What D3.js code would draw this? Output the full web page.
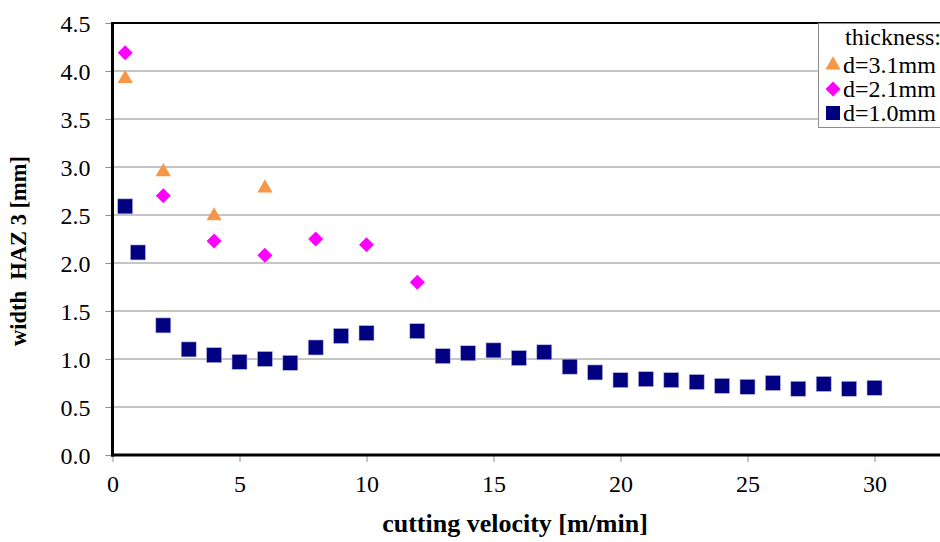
<!DOCTYPE html>
<html>
<head>
<meta charset="utf-8">
<script src="https://cdn.jsdelivr.net/npm/d3@7"></script>
<style>
  body { margin: 0; background: #fff; }
  svg { display: block; }
</style>
</head>
<body>
<div id="container"></div>
<script>
/* DATA */
const velocity10 = [0.5, 1, 2, 3, 4, 5, 6, 7, 8, 9, 10, 12, 13, 14, 15, 16, 17, 18, 19, 20, 21, 22, 23, 24, 25, 26, 27, 28, 29, 30];
const haz10 = [2.59, 2.11, 1.35, 1.10, 1.04, 0.97, 1.00, 0.96, 1.12, 1.24, 1.27, 1.29, 1.03, 1.06, 1.09, 1.01, 1.07, 0.92, 0.86, 0.78, 0.79, 0.78, 0.76, 0.72, 0.71, 0.75, 0.69, 0.74, 0.69, 0.70];
const velocity21 = [0.5, 2, 4, 6, 8, 10, 12];
const haz21 = [4.19, 2.70, 2.23, 2.08, 2.25, 2.19, 1.80];
const velocity31 = [0.5, 2, 4, 6];
const haz31 = [3.92, 2.95, 2.49, 2.78];
const yTicks = [0, 0.5, 1, 1.5, 2, 2.5, 3, 3.5, 4, 4.5];
const xTicks = [0, 5, 10, 15, 20, 25, 30];
const seriesNames = ["d=3.1mm", "d=2.1mm", "d=1.0mm"];

/* CONSTANTS */
const W = 940, H = 542;
const plotLeft = 112.5, plotTop = 23, plotBottom = 455;
const serif = "'Liberation Serif', 'Times New Roman', Times, serif";

const svg = d3.select("#container")
  .append("svg")
    .attr("width", W)
    .attr("height", H);

const x = d3.scaleLinear().domain([0, 35]).range([plotLeft, plotLeft + 35 * 25.4]);
const y = d3.scaleLinear().domain([0, 4.5]).range([plotBottom, plotTop]);

/* GRID */
svg.append("g")
  .selectAll("line")
  .data(yTicks.filter(d => d > 0 && d < 4.5))
  .join("line")
    .attr("x1", plotLeft).attr("x2", W)
    .attr("y1", d => y(d)).attr("y2", d => y(d))
    .attr("stroke", "#8c8c8c")
    .attr("stroke-width", 1);

/* AXES */
const yAxis = svg.append("g")
  .attr("transform", "translate(" + plotLeft + ",0)")
  .call(d3.axisLeft(y).tickValues(yTicks).tickSize(7).tickPadding(15).tickFormat(d3.format(".1f")));
yAxis.attr("font-family", serif).attr("font-size", 24);
yAxis.select(".domain").remove();
yAxis.selectAll("line").attr("stroke", "#8c8c8c");
yAxis.selectAll("text").attr("fill", "#000").attr("dy", "0.35em");

const xAxis = svg.append("g")
  .attr("transform", "translate(0," + plotBottom + ")")
  .call(d3.axisBottom(x).tickValues(xTicks).tickSize(7).tickPadding(13));
xAxis.attr("font-family", serif).attr("font-size", 24);
xAxis.select(".domain").remove();
xAxis.selectAll("line").attr("stroke", "#8c8c8c");
xAxis.selectAll("text").attr("fill", "#000");

// frame lines
svg.append("line").attr("x1", plotLeft).attr("x2", W).attr("y1", plotTop).attr("y2", plotTop)
  .attr("stroke", "#000").attr("stroke-width", 2);
svg.append("line").attr("x1", plotLeft).attr("x2", plotLeft).attr("y1", plotTop - 1).attr("y2", plotBottom + 1.5)
  .attr("stroke", "#000").attr("stroke-width", 3);
svg.append("line").attr("x1", plotLeft - 1.5).attr("x2", W).attr("y1", plotBottom).attr("y2", plotBottom)
  .attr("stroke", "#000").attr("stroke-width", 3);

/* MARKERS */
const tri = d3.symbol().type(d3.symbolTriangle).size(100)();
const dia = "M0,-7.5L7.5,0L0,7.5L-7.5,0Z";

svg.append("g").selectAll("rect")
  .data(velocity10.map((v, i) => [v, haz10[i]]))
  .join("rect")
    .attr("x", d => x(d[0]) - 7.5)
    .attr("y", d => y(d[1]) - 7.5)
    .attr("width", 15).attr("height", 15)
    .attr("fill", "#000080")
    .attr("stroke", "#b8b8e0").attr("stroke-width", 0.6);

svg.append("g").selectAll("path")
  .data(velocity21.map((v, i) => [v, haz21[i]]))
  .join("path")
    .attr("d", dia)
    .attr("transform", d => "translate(" + x(d[0]) + "," + y(d[1]) + ")")
    .attr("fill", "#ff00ff");

svg.append("g").selectAll("path")
  .data(velocity31.map((v, i) => [v, haz31[i]]))
  .join("path")
    .attr("d", tri)
    .attr("transform", d => "translate(" + x(d[0]) + "," + y(d[1]) + ")")
    .attr("fill", "#f79646");

/* LEGEND */
const lg = svg.append("g").attr("font-family", serif).attr("font-size", 24);
lg.append("rect")
  .attr("x", 818.5).attr("y", 23.5).attr("width", 140).attr("height", 104)
  .attr("fill", "#fff").attr("stroke", "#8c8c8c").attr("stroke-width", 1);
lg.append("text").attr("x", 845).attr("y", 45).text("thickness:");
const legendMarks = [
  {p: tri, c: "#f79646"},
  {p: dia, c: "#ff00ff"},
  {p: "M-7,-7H7V7H-7Z", c: "#000080"}
];
seriesNames.forEach((name, i) => {
  const cy = 65 + i * 24;
  lg.append("path").attr("d", legendMarks[i].p)
    .attr("transform", "translate(833," + cy + ")")
    .attr("fill", legendMarks[i].c);
  lg.append("text").attr("x", 843).attr("y", cy + 8).text(name);
});

/* TITLES */
svg.append("text")
  .attr("x", 515).attr("y", 532)
  .attr("text-anchor", "middle")
  .attr("font-family", serif)
  .attr("font-size", 26).attr("font-weight", "bold")
  .text("cutting velocity [m/min]");

svg.append("text")
  .attr("transform", "translate(26,251) rotate(-90)")
  .attr("text-anchor", "middle")
  .attr("font-family", serif)
  .attr("font-size", 22.5).attr("font-weight", "bold")
  .style("white-space", "pre")
  .text("width  HAZ 3 [mm]");
</script>
</body>
</html>
